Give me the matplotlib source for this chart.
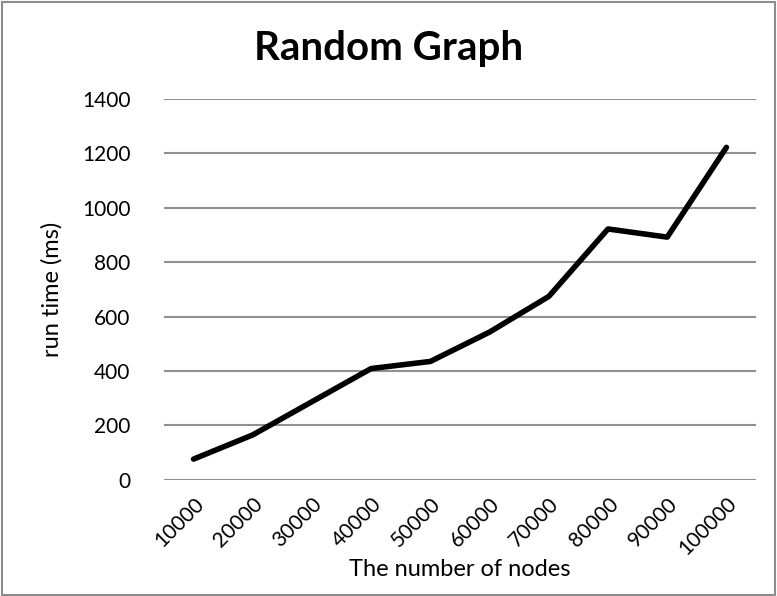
import matplotlib
matplotlib.use("Agg")
import matplotlib.pyplot as plt
from matplotlib.patches import Rectangle

nodes = ["10000", "20000", "30000", "40000", "50000",
         "60000", "70000", "80000", "90000", "100000"]
run_time = [76, 165, 287, 409, 435, 543, 674, 922, 892, 1222]
y_ticks = [0, 200, 400, 600, 800, 1000, 1200, 1400]

plt.rcParams['font.family'] = ['Lato', 'DejaVu Sans']

fig = plt.figure(figsize=(7.77, 5.96), dpi=100)
ax = fig.add_axes([0.211, 0.195, 0.762, 0.639])

x = list(range(len(nodes)))
ax.plot(x, run_time, color='black', linewidth=4, solid_capstyle='round', zorder=3)

ax.set_xlim(-0.5, len(nodes) - 0.5)
ax.set_ylim(0, 1400)
ax.set_yticks(y_ticks)
ax.set_xticks(x)
ax.set_xticklabels(nodes, rotation=45, ha='right', rotation_mode='anchor')
ax.tick_params(axis='both', length=0, labelsize=15)
ax.tick_params(axis='y', pad=24)
ax.tick_params(axis='x', pad=10)
ax.grid(axis='y', color='#909090', linewidth=1.5)
for s in ax.spines.values():
    s.set_visible(False)

ax.set_xlabel('The number of nodes', fontsize=17, labelpad=0)
ax.set_ylabel('run time (ms)', fontsize=17, labelpad=14)
fig.text(0.5, 0.918, 'Random Graph', ha='center', va='center',
         fontsize=29, fontweight='bold')

fig.patches.append(Rectangle((0.002, 0.002), 0.996, 0.995, transform=fig.transFigure,
                             fill=False, edgecolor='#8c8c8c', linewidth=1.5))

fig.savefig('out.png', dpi=100)
